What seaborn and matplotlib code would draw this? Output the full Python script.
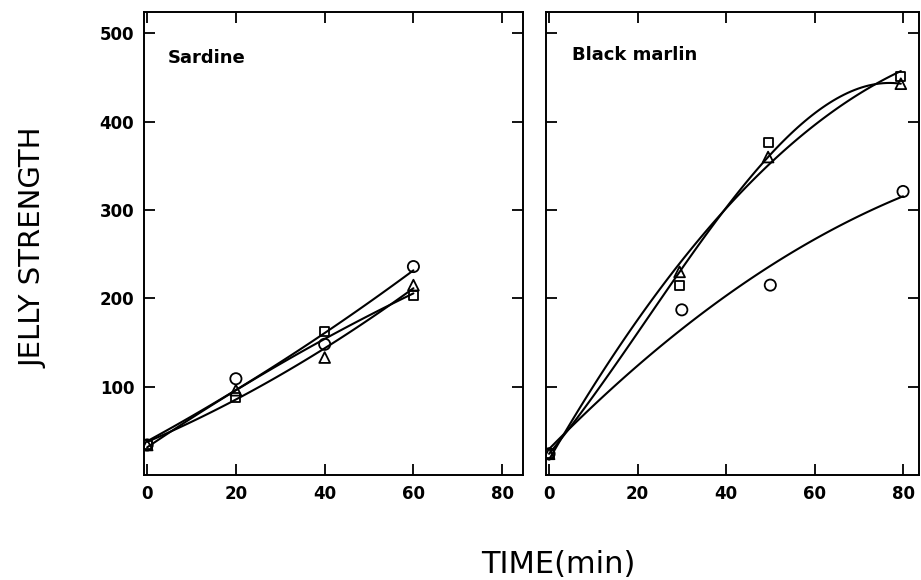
import numpy as np
import matplotlib
matplotlib.use('Agg')
import matplotlib.pyplot as plt
import seaborn as sns

# ── Data ───────────────────────────────────────────────────
# Sardine
sard_t        = [0, 20, 40, 60]
sard_circle   = [34, 109, 148, 236]
sard_triangle = [34, 96, 133, 215]
sard_square   = [34, 88, 162, 203]

# Black marlin
marl_t_circle = [0, 30, 50, 80]
marl_circle   = [24, 187, 215, 321]
marl_t        = [0, 29.5, 49.5, 79.5]
marl_triangle = [24, 230, 360, 443]
marl_square   = [24, 214, 376, 451]

x_ticks = [0, 20, 40, 60, 80]
y_ticks = [100, 200, 300, 400, 500]

# ── Style ─────────────────────────────────────────────────
sns.set_style('ticks')
plt.rcParams['font.family'] = ['DejaVu Sans']
plt.rcParams['axes.linewidth'] = 1.4
plt.rcParams['text.color'] = 'black'

fig = plt.figure(figsize=(9.21, 5.8), dpi=100)
ax1 = fig.add_axes([0.1564, 0.181, 0.4115, 0.798])
ax2 = fig.add_axes([0.5928, 0.181, 0.405, 0.798])

line_kw = dict(color='black', lw=1.5)
mk_kw = dict(fc='none', ec='black', linewidth=1.3, zorder=3, legend=False)

def draw(ax, t, y, marker, size, order):
    sns.regplot(x=t, y=y, order=order, ci=None, scatter=False, truncate=True,
                line_kws=line_kw, ax=ax)
    sns.scatterplot(x=t, y=y, marker=marker, s=size, ax=ax, **mk_kw)

# Sardine panel
draw(ax1, sard_t, sard_circle,   'o', 65, 2)
draw(ax1, sard_t, sard_triangle, '^', 60, 2)
draw(ax1, sard_t, sard_square,   's', 42, 2)

# Black marlin panel
draw(ax2, marl_t_circle, marl_circle, 'o', 65, 2)
draw(ax2, marl_t, marl_triangle,      '^', 60, 3)
draw(ax2, marl_t, marl_square,        's', 42, 2)

for ax, xmax in [(ax1, 84.7), (ax2, 83.6)]:
    ax.set_xlim(-0.7, xmax)
    ax.set_ylim(0, 524)
    ax.set_xticks(x_ticks)
    ax.set_yticks(y_ticks)
    ax.set_xlabel(''); ax.set_ylabel('')
    ax.tick_params(direction='in', length=8, width=1.3, top=True, right=True,
                   labelsize=12, pad=7, colors='black')
    for lab in ax.get_xticklabels() + ax.get_yticklabels():
        lab.set_fontweight('bold')
    for s in ax.spines.values():
        s.set_color('black')

ax2.tick_params(labelleft=False)

ax1.text(0.063, 0.90, 'Sardine', transform=ax1.transAxes, fontsize=13,
         fontweight='bold', va='center', ha='left', color='black')
ax2.text(0.07, 0.907, 'Black marlin', transform=ax2.transAxes, fontsize=13,
         fontweight='bold', va='center', ha='left', color='black')

fig.text(0.036, 0.572, 'JELLY STRENGTH', rotation=90, fontsize=21,
         ha='center', va='center', color='black')
fig.text(0.606, 0.026, 'TIME(min)', fontsize=22, ha='center', va='center',
         color='black')

fig.savefig('out.png', dpi=100)
